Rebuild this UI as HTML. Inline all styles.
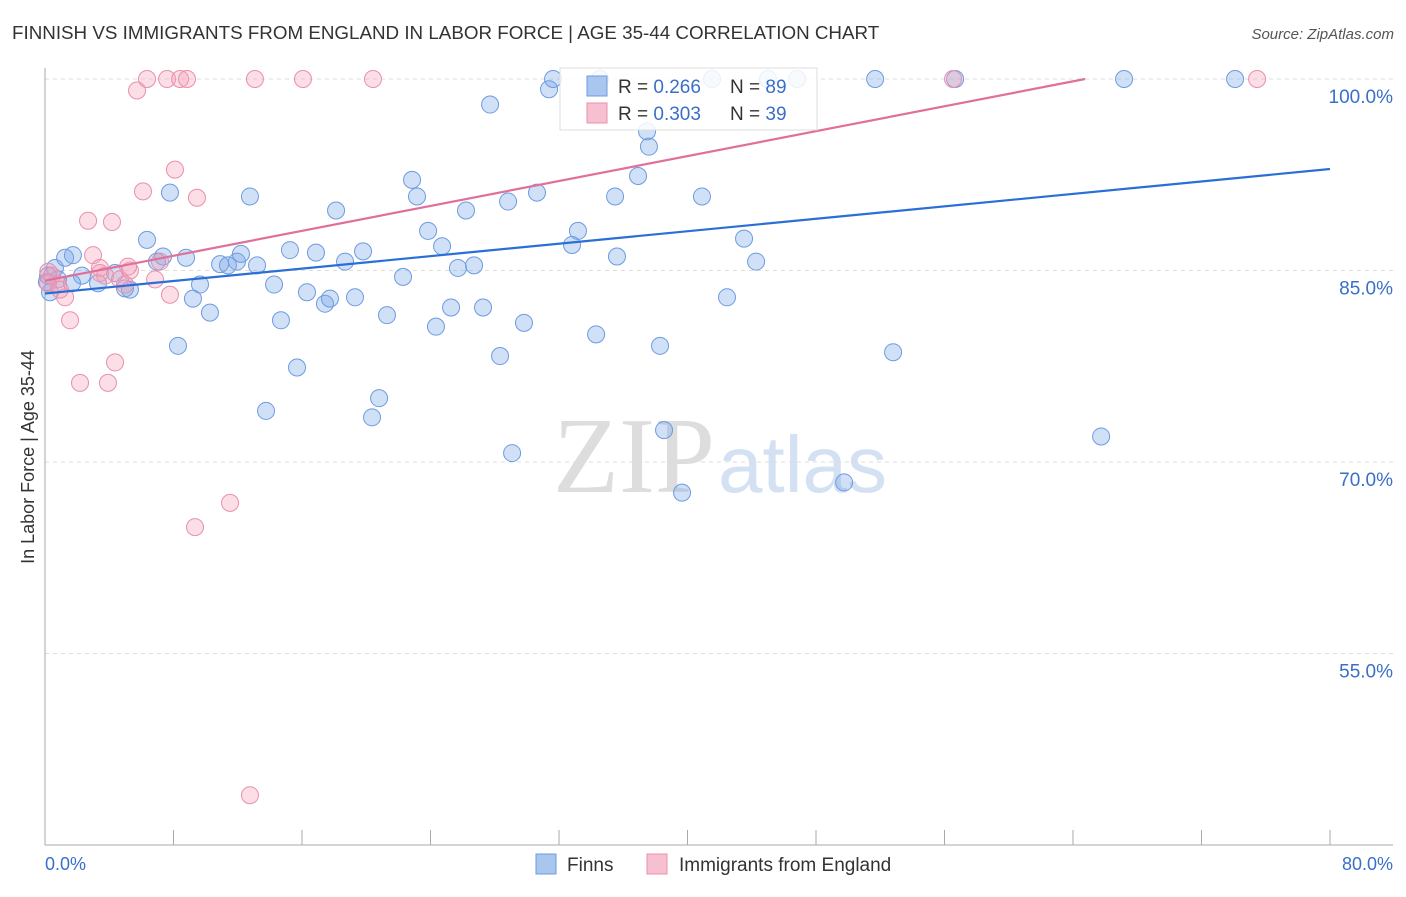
<!DOCTYPE html>
<html><head><meta charset="utf-8"><style>
body{margin:0;background:#fff;width:1406px;height:892px;overflow:hidden;font-family:"Liberation Sans",sans-serif}
svg text{font-family:"Liberation Sans",sans-serif}
</style></head><body>
<svg id="chart" width="1406" height="892" xmlns="http://www.w3.org/2000/svg">
<text x="12" y="39" font-size="18.8" fill="#333">FINNISH VS IMMIGRANTS FROM ENGLAND IN LABOR FORCE | AGE 35-44 CORRELATION CHART</text>
<text x="1394" y="39" font-size="15" fill="#555" text-anchor="end" font-style="italic">Source: ZipAtlas.com</text>
<g>
<text x="553" y="492" font-size="108" fill="#ddd" font-family="Liberation Serif" style="font-family:'Liberation Serif',serif">ZIP</text>
<text x="718" y="492" font-size="80" fill="#d3e1f2">atlas</text>
</g>
<g id="grid"></g><g id="axes"></g><g id="pts"></g><g id="trend"></g>
<text transform="translate(34,457) rotate(-90)" font-size="18" fill="#333" text-anchor="middle">In Labor Force | Age 35-44</text>
<text x="45" y="870" font-size="18" fill="#3a6fc9">0.0%</text>
<text x="1393" y="870" font-size="18" fill="#3a6fc9" text-anchor="end">80.0%</text>
<g>
<rect x="560" y="68" width="257" height="62" fill="#fff" fill-opacity="0.85" stroke="#ddd"/>
<rect x="587" y="76" width="20" height="20" fill="#a9c6ee" stroke="#6d9be0"/>
<rect x="587" y="103" width="20" height="20" fill="#f7c0d0" stroke="#e890ab"/>
<text x="618" y="93" font-size="19" fill="#333">R = <tspan fill="#3a6fc9">0.266</tspan></text>
<text x="730" y="93" font-size="19" fill="#333">N = <tspan fill="#3a6fc9">89</tspan></text>
<text x="618" y="120" font-size="19" fill="#333">R = <tspan fill="#3a6fc9">0.303</tspan></text>
<text x="730" y="120" font-size="19" fill="#333">N = <tspan fill="#3a6fc9">39</tspan></text>
</g>
<g>
<rect x="536" y="854" width="20" height="20" fill="#a9c6ee" stroke="#6d9be0"/>
<text x="567" y="871" font-size="19" fill="#333">Finns</text>
<rect x="647" y="854" width="20" height="20" fill="#f7c0d0" stroke="#e890ab"/>
<text x="679" y="871" font-size="19" fill="#333">Immigrants from England</text>
</g>
</svg>
<script>
const yTicks=[100,85,70,55];
const yTickLabels=["100.0%","85.0%","70.0%","55.0%"];
const xTicks=[0,8,16,24,32,40,48,56,64,72,80];
const finnX=[0.31,0.62,1.25,1.74,2.30,3.30,4.36,4.98,5.29,6.35,6.97,7.35,7.78,8.28,8.78,9.21,9.65,10.27,10.90,11.39,11.95,12.20,12.76,13.20,14.26,14.69,15.25,15.69,13.76,16.31,16.87,17.43,17.74,18.12,18.68,19.30,19.80,20.36,20.80,21.29,22.29,22.85,23.16,23.85,24.34,24.72,25.28,25.71,26.21,26.71,27.27,27.71,28.33,28.83,29.08,29.82,30.63,31.38,31.63,32.81,33.18,34.31,34.55,35.49,35.61,36.92,37.48,37.60,38.29,38.54,39.66,40.90,41.53,42.46,43.52,44.27,45.01,46.82,49.75,51.68,52.80,56.66,65.75,67.18,74.09,0.12,0.19,0.81,1.68];
const finnY=[83.3,85.2,86.0,86.2,84.6,84.0,84.8,83.6,83.5,87.4,85.7,86.1,91.1,79.1,86.0,82.8,83.9,81.7,85.5,85.4,85.7,86.3,90.8,85.4,83.9,81.1,86.6,77.4,74.0,83.3,86.4,82.4,82.8,89.7,85.7,82.9,86.5,73.5,75.0,81.5,84.5,92.1,90.8,88.1,80.6,86.9,82.1,85.2,89.7,85.4,82.1,98.0,78.3,90.4,70.7,80.9,91.1,99.2,100,87.0,88.1,80.0,100,90.8,86.1,92.4,95.9,94.7,79.1,72.5,67.6,90.8,100,82.9,87.5,85.7,100,100,68.4,100,78.6,100,72.0,100,100,84.1,84.6,84.3,84.0];
const engX=[0.2,0.44,0.81,1.25,1.56,2.18,2.68,2.99,3.42,3.74,3.92,4.17,4.36,4.67,4.98,5.29,5.73,6.10,6.35,6.85,7.16,7.60,7.78,8.09,8.41,8.84,9.34,9.46,11.52,12.76,13.07,16.06,20.42,56.53,75.46,0.19,0.93,3.42,5.17];
const engY=[84.9,84.6,83.9,82.9,81.1,76.2,88.9,86.2,85.2,84.6,76.2,88.8,77.8,84.3,83.9,85.0,99.1,91.2,100,84.3,85.7,100,83.1,92.9,100,100,64.9,90.7,66.8,43.9,100,100,100,100,100,84.0,83.5,84.8,85.3];
const finnTrend=[83.2,92.95];
const engTrend=[84.2,100,64.75];
const NS="http://www.w3.org/2000/svg";
const X=v=>45+v/80*1285;
const Y=v=>79+(100-v)/15*191.5;
function mk(t,a,p){const e=document.createElementNS(NS,t);for(const k in a)e.setAttribute(k,a[k]);document.getElementById(p).appendChild(e);return e;}
yTicks.forEach((t,i)=>{
 const l=mk('line',{x1:45,x2:1393,y1:Y(t),y2:Y(t),stroke:'#ddd','stroke-dasharray':'4,4'},'grid');
 
 
 const tx=mk('text',{x:1393,y:Y(t)+24,'font-size':19,fill:'#3a6fc9','text-anchor':'end'},'grid');
 tx.textContent=yTickLabels[i];
 
 
});
let a=mk('line',{x1:45,x2:45,y1:68,y2:845,stroke:'#aaa'},'axes');


a=mk('line',{x1:45,x2:1393,y1:845,y2:845,stroke:'#aaa'},'axes');


xTicks.forEach(t=>{const l=mk('line',{x1:X(t),x2:X(t),y1:830,y2:845,stroke:'#aaa'},'axes');
 
 });
finnX.forEach((v,i)=>{const c=mk('circle',{cx:X(v),cy:Y(finnY[i]),r:8.5,fill:'rgba(120,165,230,0.35)',stroke:'#6d9be0','stroke-width':1},'pts');
 
 });
engX.forEach((v,i)=>{const c=mk('circle',{cx:X(v),cy:Y(engY[i]),r:8.5,fill:'rgba(245,160,185,0.35)',stroke:'#e890ab','stroke-width':1},'pts');
 
 });
let t=mk('line',{x1:X(0),y1:Y(finnTrend[0]),x2:X(80),y2:Y(finnTrend[1]),stroke:'#2a6fd6','stroke-width':2.2},'trend');


t=mk('line',{x1:X(0),y1:Y(engTrend[0]),x2:X(engTrend[2]),y2:Y(engTrend[1]),stroke:'#e0709a','stroke-width':2.2},'trend');


</script>
</body></html>
